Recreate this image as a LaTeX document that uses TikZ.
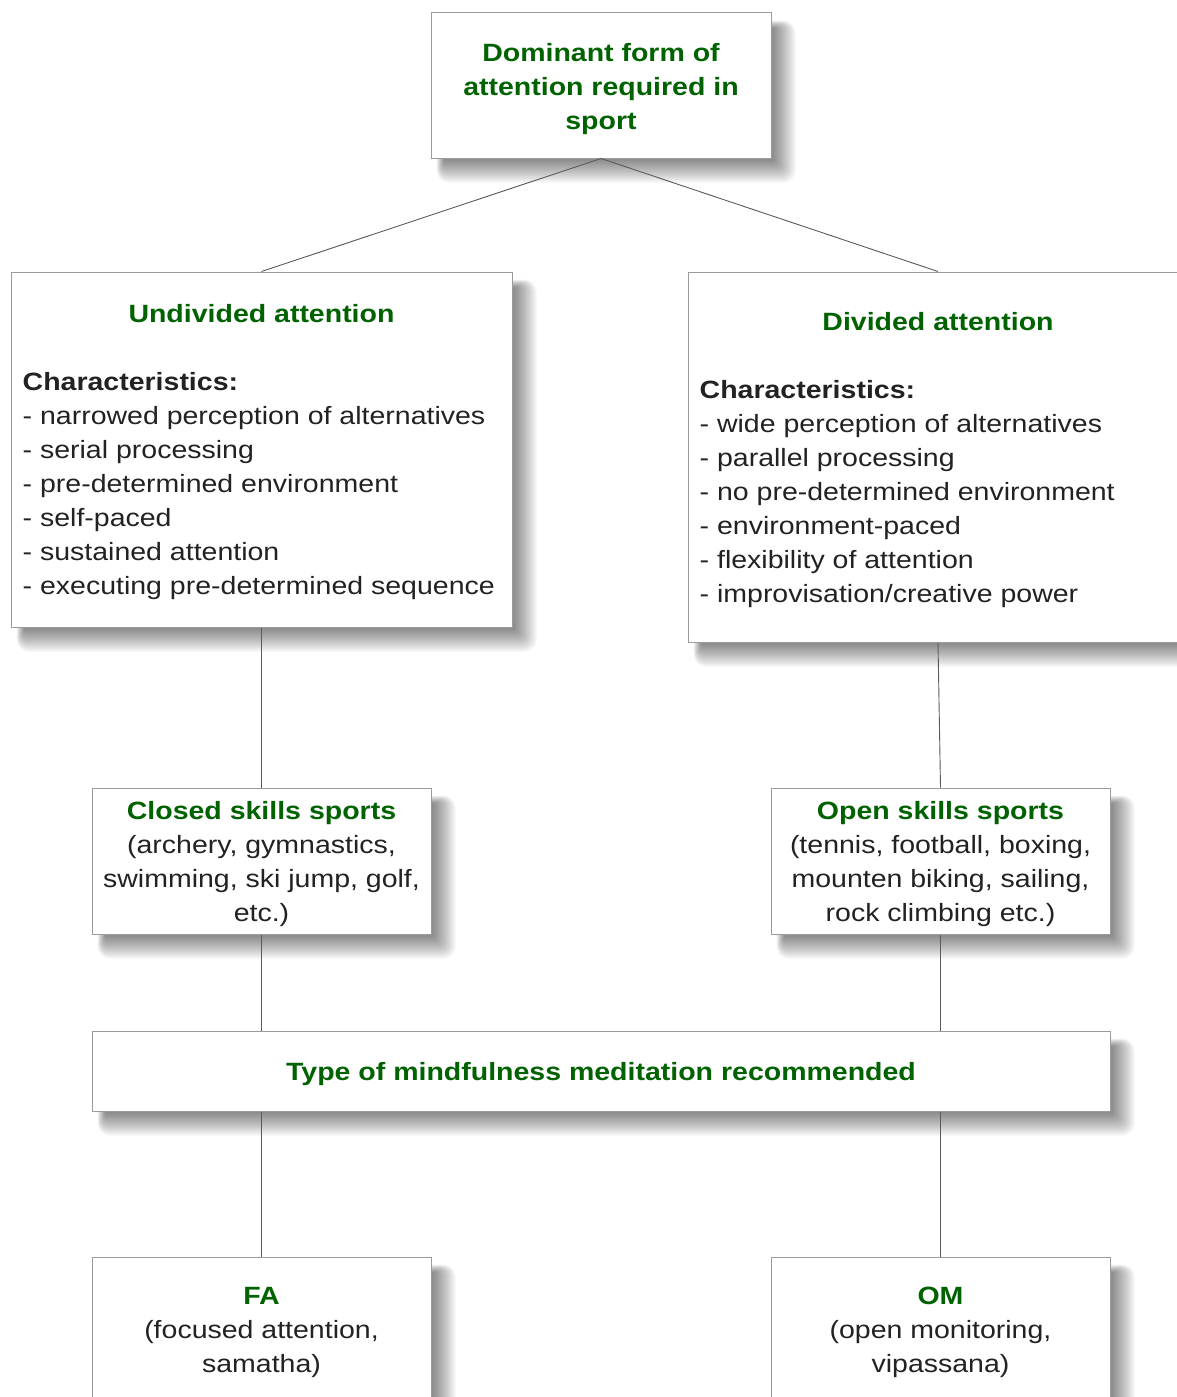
\documentclass[tikz,border=0pt]{standalone}
\usepackage{fontspec}
\setmainfont{Liberation Sans}[FakeStretch=1.14]

\definecolor{headgreen}{RGB}{0,98,0}
\definecolor{bodytext}{RGB}{34,34,34}
\definecolor{boxline}{RGB}{155,155,155}
\definecolor{linkline}{RGB}{90,90,90}

\pgfdeclarelayer{background}
\pgfsetlayers{background,main}

\tikzset{
  every node/.style={font=\fontsize{25}{34}\selectfont, text=bodytext},
  box/.style={draw=boxline, line width=1pt, fill=white, inner sep=0pt},
  centerbox/.style={box, align=center},
  head/.style={text=headgreen, font=\fontsize{25}{34}\selectfont\bfseries},
  listtext/.style={anchor=north west, inner sep=0pt, align=left},
  link/.style={draw=linkline, line width=0.9pt},
  shadowlayer/.style={fill=black, opacity=0.03},
}

% green bold heading line; the zero-width rule gives every first line the same height
\newcommand{\hd}[1]{\rule{0pt}{24.5pt}\textcolor{headgreen}{\bfseries #1}}

% soft drop shadow below and to the right of a named box, built from stacked layers
\newcommand{\softshadow}[1]{%
  \foreach \k in {0,...,16} {%
    \pgfmathsetmacro\tlx{14-0.5*\k}%
    \pgfmathsetmacro\tly{16-0.5*\k}%
    \pgfmathsetmacro\bro{2+1.4*\k}%
    \pgfmathsetmacro\rc{0.8*\k}%
    \fill[shadowlayer, rounded corners=\rc pt]
      ([xshift=\tlx pt, yshift=-\tly pt]#1.north west) rectangle
      ([xshift=\bro pt, yshift=-\bro pt]#1.south east);
  }}

\begin{document}
\begin{tikzpicture}[x=1pt, y=-1pt]
  \useasboundingbox (0,0) rectangle (1176,1397);

  % top question
  \node[centerbox, minimum width=340pt, minimum height=145pt] (top) at (601,85.5)
    {\hd{Dominant form of}\\ \hd{attention required in}\\ \hd{sport}};

  % the two kinds of attention
  \node[box, minimum width=501pt, minimum height=355pt] (und) at (261.5,449.5) {};
  \node[box, minimum width=500pt, minimum height=370pt] (dv) at (938,457) {};

  \node[head] (undtitle) at ([yshift=-42pt]und.north) {Undivided attention};
  \node[listtext] (undlist) at ([xshift=12pt, yshift=-95pt]und.north west)
    {\strut\textbf{Characteristics:}\\
     - narrowed perception of alternatives\\
     - serial processing\\
     - pre-determined environment\\
     - self-paced\\
     - sustained attention\\
     - executing pre-determined sequence};

  \node[head] (dvtitle) at ([yshift=-50pt]dv.north) {Divided attention};
  \node[listtext] (dvlist) at ([xshift=12pt, yshift=-103pt]dv.north west)
    {\strut\textbf{Characteristics:}\\
     - wide perception of alternatives\\
     - parallel processing\\
     - no pre-determined environment\\
     - environment-paced\\
     - flexibility of attention\\
     - improvisation/creative power};

  % sports
  \node[centerbox, minimum width=339pt, minimum height=146pt] (closed) at (261.5,861)
    {\hd{Closed skills sports}\\ (archery, gymnastics,\\ swimming, ski jump, golf,\\ etc.)};
  \node[centerbox, minimum width=339pt, minimum height=146pt] (open) at (940.5,861)
    {\hd{Open skills sports}\\ (tennis, football, boxing,\\ mounten biking, sailing,\\ rock climbing etc.)};

  % meditation
  \node[centerbox, minimum width=1018pt, minimum height=80pt] (type) at (601,1071)
    {\hd{Type of mindfulness meditation recommended}};

  \node[centerbox, minimum width=339pt, minimum height=144pt] (fa) at (261.5,1329)
    {\hd{FA}\\ (focused attention,\\ samatha)};
  \node[centerbox, minimum width=339pt, minimum height=144pt] (om) at (940.5,1329)
    {\hd{OM}\\ (open monitoring,\\ vipassana)};

  % connectors
  \draw[link] (top.south) -- (und.north);
  \draw[link] (top.south) -- (dv.north);
  \draw[link] (und.south) -- (closed.north);
  \draw[link] (dv.south) -- (open.north);
  \draw[link] (closed.south) -- (closed.south |- type.north);
  \draw[link] (open.south) -- (open.south |- type.north);
  \draw[link] (fa.north |- type.south) -- (fa.north);
  \draw[link] (om.north |- type.south) -- (om.north);

  % page and shadows behind everything
  \begin{pgfonlayer}{background}
    \fill[white] (-20,-20) rectangle (1220,1440);
    \foreach \b in {top,und,dv,closed,open,type,fa,om} {\softshadow{\b}}
  \end{pgfonlayer}
\end{tikzpicture}
\end{document}
